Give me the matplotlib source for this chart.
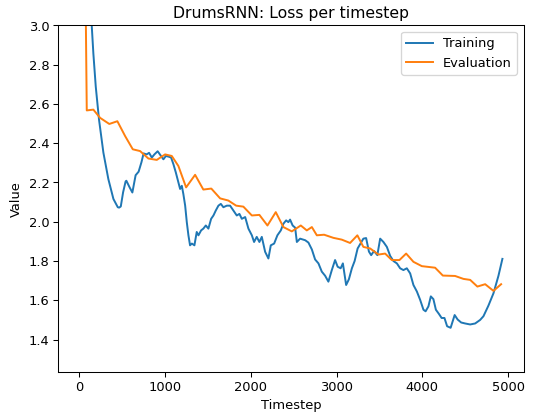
import matplotlib
matplotlib.use("Agg")
import matplotlib.pyplot as plt

# training loss (smoothed)
train_steps = [0, 51, 103, 144, 162, 190, 228, 279, 337, 396, 447, 463, 482, 509,
               538, 547, 585, 617, 655, 690, 723, 748, 783, 812, 844, 874, 912, 941,
               979, 1008, 1037, 1069, 1096, 1124, 1154, 1174, 1194, 1212, 1233, 1252,
               1271, 1290, 1311, 1341, 1368, 1388, 1419, 1445, 1474, 1504, 1536, 1563,
               1590, 1621, 1649, 1679, 1719, 1757, 1796, 1835, 1866, 1894, 1933, 1971,
               2011, 2037, 2068, 2099, 2127, 2166, 2204, 2232, 2271, 2309, 2349, 2379,
               2411, 2437, 2457, 2487, 2516, 2536, 2574, 2633, 2671, 2711, 2749, 2788,
               2827, 2866, 2904, 2944, 2982, 3012, 3047, 3073, 3111, 3143, 3178, 3210,
               3245, 3274, 3312, 3344, 3377, 3403, 3436, 3475, 3508, 3546, 3586, 3625,
               3663, 3703, 3741, 3779, 3819, 3858, 3896, 3936, 3974, 4013, 4038, 4071,
               4099, 4129, 4158, 4193, 4225, 4258, 4289, 4330, 4377, 4412, 4453, 4500,
               4558, 4616, 4674, 4713, 4771, 4830, 4888, 4934]
train_loss = [4.60, 3.75, 3.30, 2.991, 2.857, 2.688, 2.520, 2.352, 2.217, 2.116, 2.074,
              2.072, 2.078, 2.150, 2.205, 2.209, 2.175, 2.149, 2.237, 2.255, 2.303,
              2.348, 2.343, 2.351, 2.327, 2.343, 2.359, 2.341, 2.318, 2.335, 2.332,
              2.327, 2.293, 2.251, 2.201, 2.167, 2.183, 2.141, 2.082, 1.998, 1.931,
              1.880, 1.889, 1.880, 1.948, 1.931, 1.956, 1.965, 1.981, 1.965, 2.015,
              2.032, 2.057, 2.082, 2.091, 2.074, 2.082, 2.082, 2.057, 2.032, 2.040,
              2.015, 2.024, 1.965, 1.931, 1.897, 1.923, 1.897, 1.923, 1.847, 1.813,
              1.880, 1.889, 1.931, 1.956, 1.990, 2.007, 1.998, 2.011, 1.981, 1.970,
              1.897, 1.914, 1.906, 1.894, 1.859, 1.808, 1.788, 1.746, 1.725, 1.695,
              1.754, 1.805, 1.771, 1.763, 1.788, 1.678, 1.707, 1.763, 1.800, 1.864,
              1.886, 1.914, 1.917, 1.848, 1.830, 1.851, 1.830, 1.914, 1.897, 1.872,
              1.826, 1.800, 1.788, 1.763, 1.754, 1.763, 1.737, 1.678, 1.645, 1.603,
              1.552, 1.544, 1.569, 1.620, 1.606, 1.552, 1.531, 1.510, 1.510, 1.468,
              1.460, 1.525, 1.502, 1.487, 1.482, 1.477, 1.482, 1.500, 1.519, 1.573,
              1.636, 1.725, 1.811]

# evaluation loss
eval_steps = [0, 85, 162, 241, 348, 442, 533, 622, 707, 804, 902, 999, 1077, 1154,
              1244, 1349, 1445, 1538, 1641, 1737, 1828, 1912, 2011, 2099, 2193, 2290,
              2379, 2477, 2582, 2652, 2711, 2769, 2854, 2963, 3060, 3157, 3242, 3312,
              3391, 3488, 3566, 3644, 3733, 3811, 3896, 3994, 4149, 4239, 4382, 4480,
              4558, 4642, 4733, 4830, 4919]
eval_loss = [6.20, 2.567, 2.571, 2.529, 2.498, 2.512, 2.436, 2.369, 2.360, 2.322,
             2.315, 2.343, 2.335, 2.284, 2.175, 2.239, 2.164, 2.169, 2.119, 2.108,
             2.082, 2.077, 2.032, 2.035, 1.981, 2.049, 1.973, 1.951, 1.981, 1.956,
             1.973, 1.931, 1.934, 1.918, 1.909, 1.892, 1.931, 1.872, 1.864, 1.833,
             1.838, 1.805, 1.805, 1.838, 1.796, 1.774, 1.766, 1.726, 1.724, 1.709,
             1.704, 1.670, 1.682, 1.648, 1.682]

fig = plt.figure(figsize=(5.688, 4.428), dpi=93.75)
ax = fig.add_axes([58.3 / 533, 43 / 415, 465 / 533, 346.5 / 415])

ax.plot(train_steps, train_loss, label="Training")
ax.plot(eval_steps, eval_loss, label="Evaluation")
ax.set_ylim(1.235, 3.0)
ax.set_title("DrumsRNN: Loss per timestep")
ax.set_xlabel("Timestep")
ax.set_ylabel("Value")
ax.legend(loc="upper right")

fig.savefig("out.png", dpi=93.75)
